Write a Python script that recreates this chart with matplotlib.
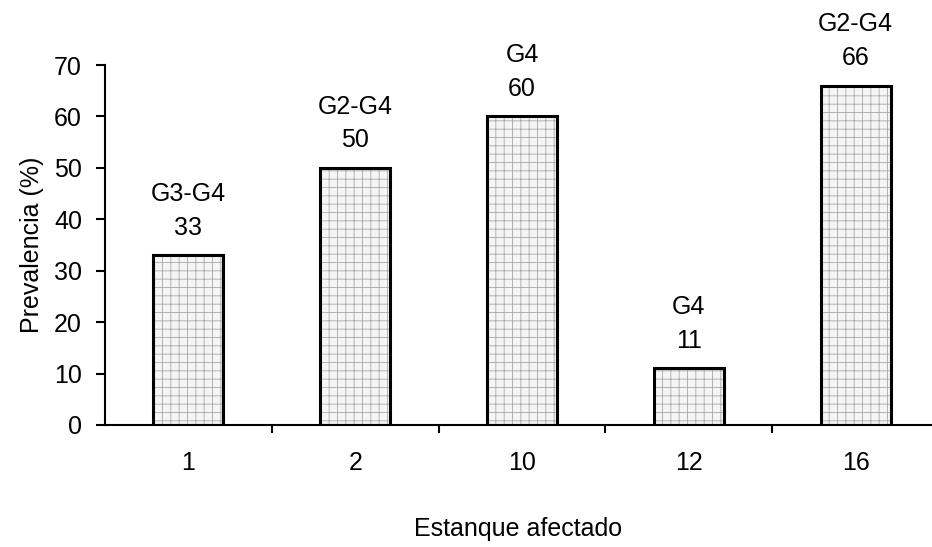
import matplotlib
matplotlib.use("Agg")
import matplotlib.pyplot as plt

categories = ["1", "2", "10", "12", "16"]
prevalence = [33, 50, 60, 11, 66]
genotypes = ["G3-G4", "G2-G4", "G4", "G4", "G2-G4"]
yticks = [0, 10, 20, 30, 40, 50, 60, 70]

plt.rcParams["font.family"] = ["Liberation Sans", "DejaVu Sans"]
plt.rcParams["hatch.linewidth"] = 0.6
FS = 18

fig = plt.figure(figsize=(9.32, 5.47), dpi=100)
ax = fig.add_axes([105 / 932, 1 - 425 / 547, (932 - 105) / 932, 360 / 547])

x = list(range(len(categories)))
width = 0.42

# textured fill first, then the black outline on top
ax.bar(x, prevalence, width=width, color="#f5f5f5", edgecolor="#a8a8a8",
       hatch="++", linewidth=0, zorder=2)
ax.bar(x, prevalence, width=width, fill=False, edgecolor="black",
       linewidth=2.2, zorder=3)

for xi, v, g in zip(x, prevalence, genotypes):
    ax.annotate(str(v), (xi, v), xytext=(0, 20), textcoords="offset points",
                ha="center", va="center", fontsize=FS)
    ax.annotate(g, (xi, v), xytext=(0, 44), textcoords="offset points",
                ha="center", va="center", fontsize=FS)

ax.set_ylim(0, 70)
ax.set_xlim(-0.5, 4.5 - 7 / 166.7)
ax.set_yticks(yticks)
ax.set_yticklabels([str(t) for t in yticks], fontsize=FS)
ax.tick_params(axis="y", direction="out", length=6.5, width=1.5, pad=10)

# category boundaries carry the tick marks, centres carry the labels
ax.set_xticks([0.5, 1.5, 2.5, 3.5])
ax.set_xticklabels([])
ax.tick_params(axis="x", which="major", direction="out", length=6, width=1.5)
ax.set_xticks(x, minor=True)
ax.set_xticklabels(categories, minor=True, fontsize=FS)
ax.tick_params(axis="x", which="minor", length=0, pad=19)

for side in ("top", "right"):
    ax.spines[side].set_visible(False)
for side in ("left", "bottom"):
    ax.spines[side].set_linewidth(1.5)

ax.set_ylabel("Prevalencia (%)", fontsize=FS, labelpad=7)
ax.set_xlabel("Estanque afectado", fontsize=FS, labelpad=30)

fig.savefig("out.png", dpi=100)
